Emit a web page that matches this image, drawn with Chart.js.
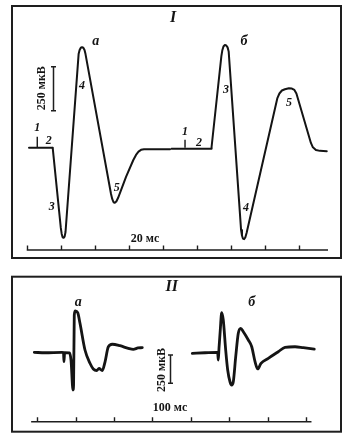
<!DOCTYPE html>
<html><head><meta charset="utf-8">
<script src="https://cdn.jsdelivr.net/npm/chart.js@4.4.1/dist/chart.umd.min.js"></script>
<style>
html,body{margin:0;padding:0;background:#fff;}
#wrap{position:relative;width:351px;height:440px;background:#fff;}
canvas{position:absolute;left:0;}
#c1{top:0;width:351px;height:270px;}
#c2{top:270px;width:351px;height:170px;}
</style></head><body>
<div id="wrap"><canvas id="c1" width="351" height="270"></canvas><canvas id="c2" width="351" height="170"></canvas></div>
<script>
// ---------- Panel I (schematic); time in ms, potential in µV ----------
const timeIa = [1.35, 15.04, 15.33, 20.03, 20.56, 21.09, 21.68, 22.27, 22.80, 30.49, 31.08, 31.78, 32.49, 33.25, 33.96, 34.54, 49.53, 50.23, 51.00, 51.76, 52.64, 53.64, 54.81, 58.34, 62.63, 64.21, 65.68, 67.15, 68.91, 84.19];
const voltIa = [0, 0, -7, -456, -490, -509, -512, -505, -479, 532, 555, 568, 571, 568, 555, 532, -263, -291, -310, -313, -306, -286, -257, -166, -70, -41, -22, -12, -9, -9];
const timeIb = [85.1, 108.3, 108.6, 114.35, 114.88, 115.58, 116.41, 117.23, 118.00, 118.64, 125.93, 126.46, 127.05, 127.69, 128.40, 129.16, 147.26, 148.44, 149.91, 151.67, 154.02, 155.78, 157.25, 158.43, 166.95, 168.12, 169.89, 172.24, 176.25];
const voltIb = [-6, -6, 4, 520, 552, 575, 584, 581, 570, 547, -468, -499, -517, -520, -510, -485, 282, 308, 325, 332, 338, 336, 328, 308, 27, 2, -13, -18, -20];
const stimI = [6.2, 93.0];           // stimulus marks "1"
const stimHeightI = [62, 45];
const rulerTicksI = [0, 20, 40, 60, 80, 100, 120, 140, 160];
const rulerEndI = 177;
const calibI = 250;                   // µV

// ---------- Panel II (recordings) ----------
const timeIIa = [-7.8, 20.1, 64.3, 68.2, 69.5, 71.1, 83.8, 87.8, 93.0, 94.5, 96.3, 99.0, 105.2, 111.2, 124.2, 137.2, 145.8, 154.7, 160.7, 169.3, 176.3, 184.9, 195.3, 215.4, 237.0, 250.0, 262.2, 273.4];
const voltIIa = [0, -4, 0, -2, -83, -4, -6, -68, -333, -289, 329, 365, 350, 256, 20, -97, -147, -161, -143, -161, -86, 47, 71, 58, 35, 26, 38, 41];
const timeIIb = [403.6, 436.7, 467.2, 469.8, 471.3, 473.2, 476.5, 480.2, 484.3, 490.6, 495.8, 501.8, 506.2, 510.4, 516.7, 523.4, 529.7, 536.5, 549.5, 558.4, 567.0, 574.0, 582.5, 601.5, 627.6, 645.0, 671.1, 692.7, 721.3];
const voltIIb = [-9, -4, 0, -6, -68, 38, 197, 350, 285, 20, -156, -260, -289, -260, -39, 168, 212, 182, 109, 49, -83, -147, -97, -53, 5, 44, 49, 41, 29];
const rulerTicksII = [0, 100, 200, 300, 400, 500, 600, 700];
const rulerStartII = -16, rulerEndII = 714;
const calibII = 250;

const INK = '#141414';
const SERIF = '"Liberation Serif", "DejaVu Serif", serif';

const decor = {
  id: 'decor',
  afterDatasetsDraw(chart, args, o) {
    const ctx = chart.ctx, xs = chart.scales.x, ys = chart.scales.y;
    ctx.save();
    ctx.strokeStyle = '#1e1e1e'; ctx.fillStyle = INK;
    ctx.lineWidth = 2;
    const f = o.frame;
    ctx.strokeRect(f[0], f[1], f[2] - f[0], f[3] - f[1]);
    ctx.lineWidth = 1.4;
    const ry = ys.getPixelForValue(o.ruler.v);
    ctx.beginPath();
    ctx.moveTo(xs.getPixelForValue(o.ruler.from), ry);
    ctx.lineTo(xs.getPixelForValue(o.ruler.to), ry);
    o.ruler.ticks.forEach(t => {
      const px = Math.round(xs.getPixelForValue(t)) + 0.5;
      ctx.moveTo(px, ry); ctx.lineTo(px, ry - 4.5);
    });
    ctx.stroke();
    const bx = Math.round(xs.getPixelForValue(o.bar.t)) + 0.5;
    const b0 = ys.getPixelForValue(o.bar.v0), b1 = ys.getPixelForValue(o.bar.v0 + o.bar.size);
    ctx.lineWidth = 1.5;
    ctx.beginPath();
    ctx.moveTo(bx, b0); ctx.lineTo(bx, b1);
    ctx.moveTo(bx - 2.5, b0); ctx.lineTo(bx + 2.5, b0);
    ctx.moveTo(bx - 2.5, b1); ctx.lineTo(bx + 2.5, b1);
    ctx.stroke();
    ctx.textAlign = 'center'; ctx.textBaseline = 'middle';
    o.texts.forEach(tx => {
      ctx.font = tx.font + ' ' + SERIF;
      const px = xs.getPixelForValue(tx.t), py = ys.getPixelForValue(tx.v);
      if (tx.rot) {
        ctx.save(); ctx.translate(px, py); ctx.rotate(-Math.PI / 2);
        ctx.fillText(tx.s, 0, 0); ctx.restore();
      } else ctx.fillText(tx.s, px, py);
    });
    ctx.restore();
  }
};

function pts(ts, vs) { return ts.map((t, i) => ({ x: t, y: vs[i] })); }
function trace(ts, vs, w, smooth) {
  const d = { data: pts(ts, vs), borderColor: INK, borderWidth: w, pointRadius: 0,
           fill: false, borderCapStyle: 'round', borderJoinStyle: 'round' };
  if (smooth) d.cubicInterpolationMode = 'monotone'; else d.tension = 0;
  return d;
}
function mark(t, h, w) {
  return { data: [{ x: t, y: 0 }, { x: t, y: h }], borderColor: INK, borderWidth: w, pointRadius: 0, tension: 0, fill: false };
}
function makeChart(id, datasets, xr, yr, deco) {
  return new Chart(document.getElementById(id), {
    type: 'line',
    data: { datasets },
    options: {
      responsive: false, animation: false, devicePixelRatio: 1,
      layout: { padding: 0 },
      scales: {
        x: { type: 'linear', display: false, min: xr[0], max: xr[1] },
        y: { type: 'linear', display: false, min: yr[0], max: yr[1] }
      },
      plugins: { legend: { display: false }, tooltip: { enabled: false }, decor: deco }
    },
    plugins: [decor]
  });
}

makeChart('c1', [
  trace(timeIa, voltIa, 2, false),
  trace(timeIb, voltIb, 2, false),
  mark(stimI[0], stimHeightI[0], 1.4),
  mark(stimI[1], stimHeightI[1], 1.4)
], [-15.69, 190.5], [-694.9, 839.2], {
  frame: [12, 6, 341, 258],
  ruler: { ticks: rulerTicksI, from: 0, to: rulerEndI, v: -581 },
  bar: { t: 15.6, v0: 210, size: calibI },
  texts: [
    { s: 'I', t: 86.0, v: 737, font: 'italic bold 16px' },
    { s: 'а', t: 40.5, v: 602, font: 'italic bold 14px' },
    { s: 'б', t: 127.7, v: 602, font: 'italic bold 14px' },
    { s: '1', t: 6.2, v: 114, font: 'italic bold 12px' },
    { s: '2', t: 12.9, v: 38, font: 'italic bold 12px' },
    { s: '3', t: 14.7, v: -335, font: 'italic bold 12px' },
    { s: '4', t: 32.5, v: 351, font: 'italic bold 12px' },
    { s: '5', t: 52.9, v: -227, font: 'italic bold 12px' },
    { s: '1', t: 93.0, v: 88, font: 'italic bold 12px' },
    { s: '2', t: 101.2, v: 28, font: 'italic bold 12px' },
    { s: '3', t: 117.1, v: 328, font: 'italic bold 12px' },
    { s: '4', t: 128.8, v: -343, font: 'italic bold 12px' },
    { s: '5', t: 154.1, v: 256, font: 'italic bold 12px' },
    { s: '20 мс', t: 69.5, v: -519, font: 'bold 12px' },
    { s: '250 мкВ', t: 8.8, v: 338, font: 'bold 12px', rot: true }
  ]
});

makeChart('c2', [
  trace(timeIIa, voltIIa, 2.8, true),
  trace(timeIIb, voltIIb, 2.8, true)
], [-97.1, 816.9], [-774.4, 726.7], {
  frame: [12, 6.7, 341, 161.7],
  ruler: { ticks: rulerTicksII, from: rulerStartII, to: rulerEndII, v: -613 },
  bar: { t: 345.6, v0: -274, size: calibII },
  texts: [
    { s: 'II', t: 350, v: 574, font: 'italic bold 16px' },
    { s: 'а', t: 106.8, v: 438, font: 'italic bold 14px' },
    { s: 'б', t: 558.3, v: 438, font: 'italic bold 14px' },
    { s: '100 мс', t: 345.6, v: -494, font: 'bold 12px' },
    { s: '250 мкВ', t: 323.9, v: -156, font: 'bold 12px', rot: true }
  ]
});
</script>
</body></html>
